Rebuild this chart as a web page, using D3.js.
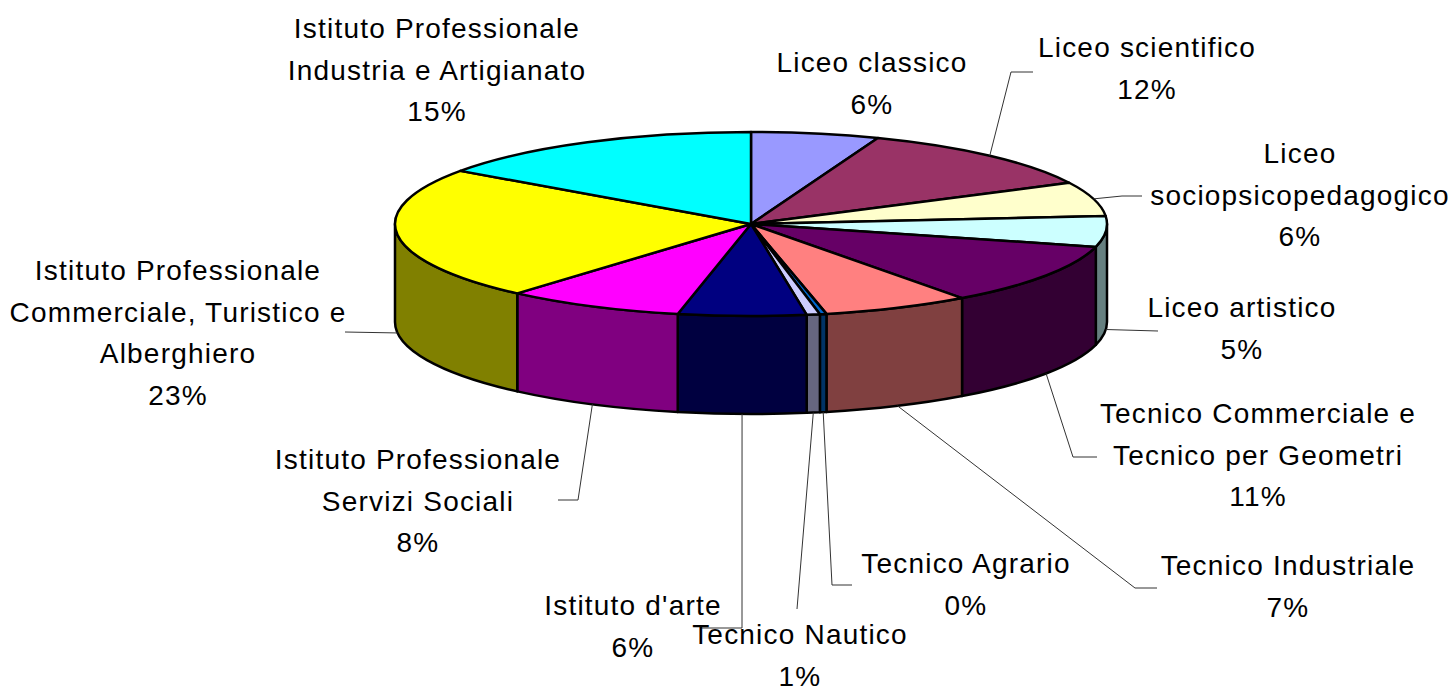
<!DOCTYPE html>
<html>
<head>
<meta charset="utf-8">
<script src="https://cdn.jsdelivr.net/npm/d3@7"></script>
<style>
  body { margin: 0; background: #ffffff; }
  text { font-family: Arial, "Liberation Sans", sans-serif; font-size: 28px; letter-spacing: 1.2px; fill: #000; }
</style>
</head>
<body>
<div id="pie-container"></div>
<script>
// slices, clockwise from 12 o'clock
const categories = [
  "Liceo classico",
  "Liceo scientifico",
  "Liceo\nsociopsicopedagogico",
  "Liceo artistico",
  "Tecnico Commerciale e\nTecnico per Geometri",
  "Tecnico Industriale",
  "Tecnico Agrario",
  "Tecnico Nautico",
  "Istituto d'arte",
  "Istituto Professionale\nServizi Sociali",
  "Istituto Professionale\nCommerciale, Turistico e\nAlberghiero",
  "Istituto Professionale\nIndustria e Artigianato",
];
const shares = [5.8, 11.8, 6.0, 5.4, 10.9, 6.7, 0.3, 0.6, 5.8, 8.1, 23.4, 15.2];
const colors = [
  "#9999FF", "#993366", "#FFFFCC", "#CCFFFF", "#660066", "#FF8080",
  "#0066CC", "#CCCCFF", "#000080", "#FF00FF", "#FFFF00", "#00FFFF",
];

// label placement: centre of the first line
const labelPos = [
  [872, 62], [1147, 47], [1300, 153], [1242, 307], [1258, 413], [1288, 565],
  [966, 563], [800, 634], [633, 605], [418, 459], [178, 270], [437, 28],
];
// leader lines: start next to the label, optional elbow, then to the slice
const leaderStart = [
  null, [1033, 72], [1142, 196], [1158, 331], [1097, 457], [1157, 588],
  [852, 585], [797, 609], [700, 628], [558, 500], [345, 332], null,
];
const leaderElbow = [
  null, [1011, 72], [1122, 196], null, [1073, 457], [1135, 588],
  [832, 585], null, [742, 628], [578, 500], null, null,
];

const width = 1455, height = 690;
const cx = 751, cy = 224, rx = 356, ry = 92, depth = 98;
const lineH = 41.5;

const svg = d3.select("#pie-container")
  .append("svg")
  .attr("width", width)
  .attr("height", height);

const pie = d3.pie().sort(null).value((d) => d)
  .startAngle(0).endAngle(2 * Math.PI);
const arcs = pie(shares);

// point on the rim, angle clockwise from top
function pt(a, dz = 0) {
  return [cx + rx * Math.sin(a), cy - ry * Math.cos(a) + dz];
}

function topPath(d) {
  const p0 = pt(d.startAngle), p1 = pt(d.endAngle);
  const large = d.endAngle - d.startAngle > Math.PI ? 1 : 0;
  return `M${cx},${cy}L${p0}A${rx},${ry} 0 ${large} 1 ${p1}Z`;
}

function wallPath(d) {
  const a0 = Math.max(d.startAngle, Math.PI / 2);
  const a1 = Math.min(d.endAngle, 1.5 * Math.PI);
  if (a1 <= a0) return null;
  const t0 = pt(a0), t1 = pt(a1), b0 = pt(a0, depth), b1 = pt(a1, depth);
  return `M${t0}A${rx},${ry} 0 0 1 ${t1}L${b1}A${rx},${ry} 0 0 0 ${b0}Z`;
}

const shade = (c) => {
  const r = d3.rgb(c);
  return d3.rgb(r.r / 2, r.g / 2, r.b / 2).toString();
};

// side walls
svg.append("g")
  .selectAll("path")
  .data(arcs.filter((d) => wallPath(d)))
  .enter()
  .append("path")
  .attr("d", wallPath)
  .style("fill", (d) => shade(colors[d.index]))
  .style("stroke", "#000")
  .style("stroke-width", 2.5)
  .style("stroke-linejoin", "round");

// top faces
svg.append("g")
  .selectAll("path")
  .data(arcs)
  .enter()
  .append("path")
  .attr("d", topPath)
  .style("fill", (d) => colors[d.index])
  .style("stroke", "#000")
  .style("stroke-width", 2.5)
  .style("stroke-linejoin", "round");

// leader lines
arcs.forEach((d) => {
  const s = leaderStart[d.index];
  if (!s) return;
  const mid = (d.startAngle + d.endAngle) / 2;
  const end = Math.cos(mid) >= 0 ? pt(mid) : pt(mid, depth);
  const pts = [s];
  if (leaderElbow[d.index]) pts.push(leaderElbow[d.index]);
  pts.push(end);
  svg.append("path")
    .attr("d", d3.line()(pts))
    .style("fill", "none")
    .style("stroke", "#333")
    .style("stroke-width", 1);
});

// labels
arcs.forEach((d) => {
  const lines = categories[d.index].split("\n").concat(Math.round(shares[d.index]) + "%");
  const [x, y] = labelPos[d.index];
  const t = svg.append("text").attr("text-anchor", "middle");
  lines.forEach((ln, i) => {
    t.append("tspan")
      .attr("x", x)
      .attr("y", y + i * lineH + 10)
      .text(ln);
  });
});
</script>
</body>
</html>
